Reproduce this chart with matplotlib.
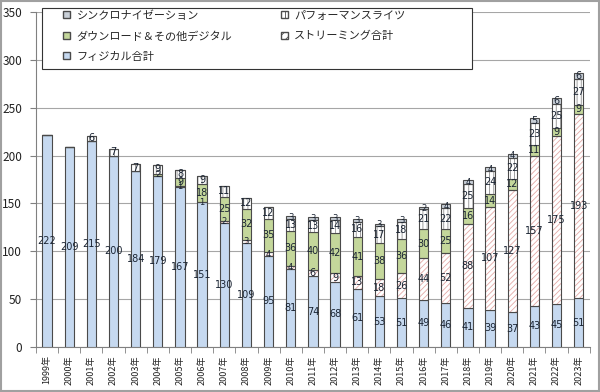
import matplotlib
matplotlib.use("Agg")
import matplotlib.pyplot as plt
from matplotlib.patches import Rectangle, Patch
import numpy as np

plt.rcParams['font.family'] = ['Noto Sans CJK JP', 'DejaVu Sans']

years = [f"{y}年" for y in range(1999, 2024)]
physical = [222, 209, 215, 200, 184, 179, 167, 151, 130, 109, 95, 81, 74, 68, 61, 53, 51, 49, 46, 41, 39, 37, 43, 45, 51]
streaming = [0, 0, 0, 0, 0, 0, 1, 1, 2, 3, 4, 4, 6, 9, 13, 18, 26, 44, 52, 88, 107, 127, 157, 175, 193]
download = [0, 0, 0, 0, 0, 2, 9, 18, 25, 32, 35, 36, 40, 42, 41, 38, 36, 30, 25, 16, 14, 12, 11, 9, 9]
performance = [0, 0, 6, 7, 7, 9, 8, 9, 11, 12, 12, 13, 13, 14, 16, 17, 18, 21, 22, 25, 24, 22, 23, 25, 27]
sync = [0, 0, 0, 0, 0, 0, 0, 0, 0, 0, 0, 3, 3, 3, 3, 3, 3, 2, 4, 4, 4, 4, 5, 6, 6]

labels = {
    'sync': 'シンクロナイゼーション',
    'perf': 'パフォーマンスライツ',
    'dl': 'ダウンロード＆その他デジタル',
    'st': 'ストリーミング合計',
    'ph': 'フィジカル合計',
}

W, H = 600, 392
fig = plt.figure(figsize=(W / 100, H / 100), dpi=100)
ax = fig.add_axes([0.06, 0.115, 0.923, 0.854])

x = np.arange(len(years))
w = 0.42
edge = '#4a4a4a'
txt = '#1a2433'

series = [
    (physical, '#c6d9f0', None, None),
    (streaming, 'white', '//////', '#e3a9a6'),
    (download, '#c4d79b', None, None),
    (performance, 'white', '||||', '#909090'),
    (sync, '#c9d0d8', None, None),
]

plt.rcParams['hatch.linewidth'] = 0.6
bottom = np.zeros(len(years))
for vals, fc, hatch, hc in series:
    v = np.array(vals, dtype=float)
    if hatch:
        ax.bar(x, v, w, bottom=bottom, color=fc, edgecolor=hc, hatch=hatch, linewidth=0, zorder=3)
        ax.bar(x, v, w, bottom=bottom, fill=False, edgecolor=edge, linewidth=0.8, zorder=4)
    else:
        ax.bar(x, v, w, bottom=bottom, color=fc, edgecolor=edge, linewidth=0.8, zorder=3)
    for i in range(len(years)):
        if v[i] > 0:
            fs = 7 if v[i] >= 5 else 6
            ax.text(x[i], bottom[i] + v[i] / 2, f"{int(v[i])}", ha='center', va='center',
                    fontsize=fs, color=txt, zorder=6, family=['DejaVu Sans'])
    bottom += v

ax.set_xlim(-0.5, len(years) - 0.5)
ax.set_ylim(0, 350)
ax.set_yticks(range(0, 351, 50))
ax.tick_params(axis='y', labelsize=8.5, length=4, color='#808080', pad=6, labelcolor='#222222')
ax.yaxis.grid(True, color='#a6a6a6', linewidth=0.8, zorder=0)
ax.set_axisbelow(True)

ax.set_xticks(x)
ax.set_xticklabels(years, rotation=90, fontsize=6.5, color='#222222')
ax.tick_params(axis='x', length=0, pad=6)
ax.set_xticks(np.arange(-0.5, len(years), 1), minor=True)
ax.tick_params(axis='x', which='minor', length=4, color='#808080')

for s in ['top', 'right']:
    ax.spines[s].set_visible(False)
for s in ['left', 'bottom']:
    ax.spines[s].set_color('#808080')

handles = [
    Patch(facecolor='#c9d0d8', edgecolor=edge, label=labels['sync']),
    Patch(facecolor='#c4d79b', edgecolor=edge, label=labels['dl']),
    Patch(facecolor='#c6d9f0', edgecolor=edge, label=labels['ph']),
    Patch(facecolor='white', edgecolor=edge, hatch='||||', label=labels['perf']),
    Patch(facecolor='white', edgecolor=edge, hatch='////', label=labels['st']),
]

# legend frame box
frame = Rectangle((42 / W, 1 - 69 / H), 430 / W, 61 / H, transform=fig.transFigure,
                  facecolor='white', edgecolor='#333333', linewidth=0.8, clip_on=False, zorder=9)
ax.add_patch(frame)

leg = ax.legend(handles=handles, ncol=2, loc='upper left',
                bbox_to_anchor=(63 / W, 1 - 10 / H), bbox_transform=fig.transFigure,
                fontsize=8, frameon=False,
                handlelength=0.65, handleheight=0.65, borderpad=0, columnspacing=4.4,
                labelspacing=0.92, handletextpad=0.55, borderaxespad=0)
leg.set_zorder(10)
for t in leg.get_texts():
    t.set_color('#262626')

fig.patches.append(Rectangle((0.002, 0.003), 0.996, 0.994, transform=fig.transFigure,
                             fill=False, edgecolor='#a0a0a0', linewidth=1.5))

fig.savefig('out.png', dpi=100)
